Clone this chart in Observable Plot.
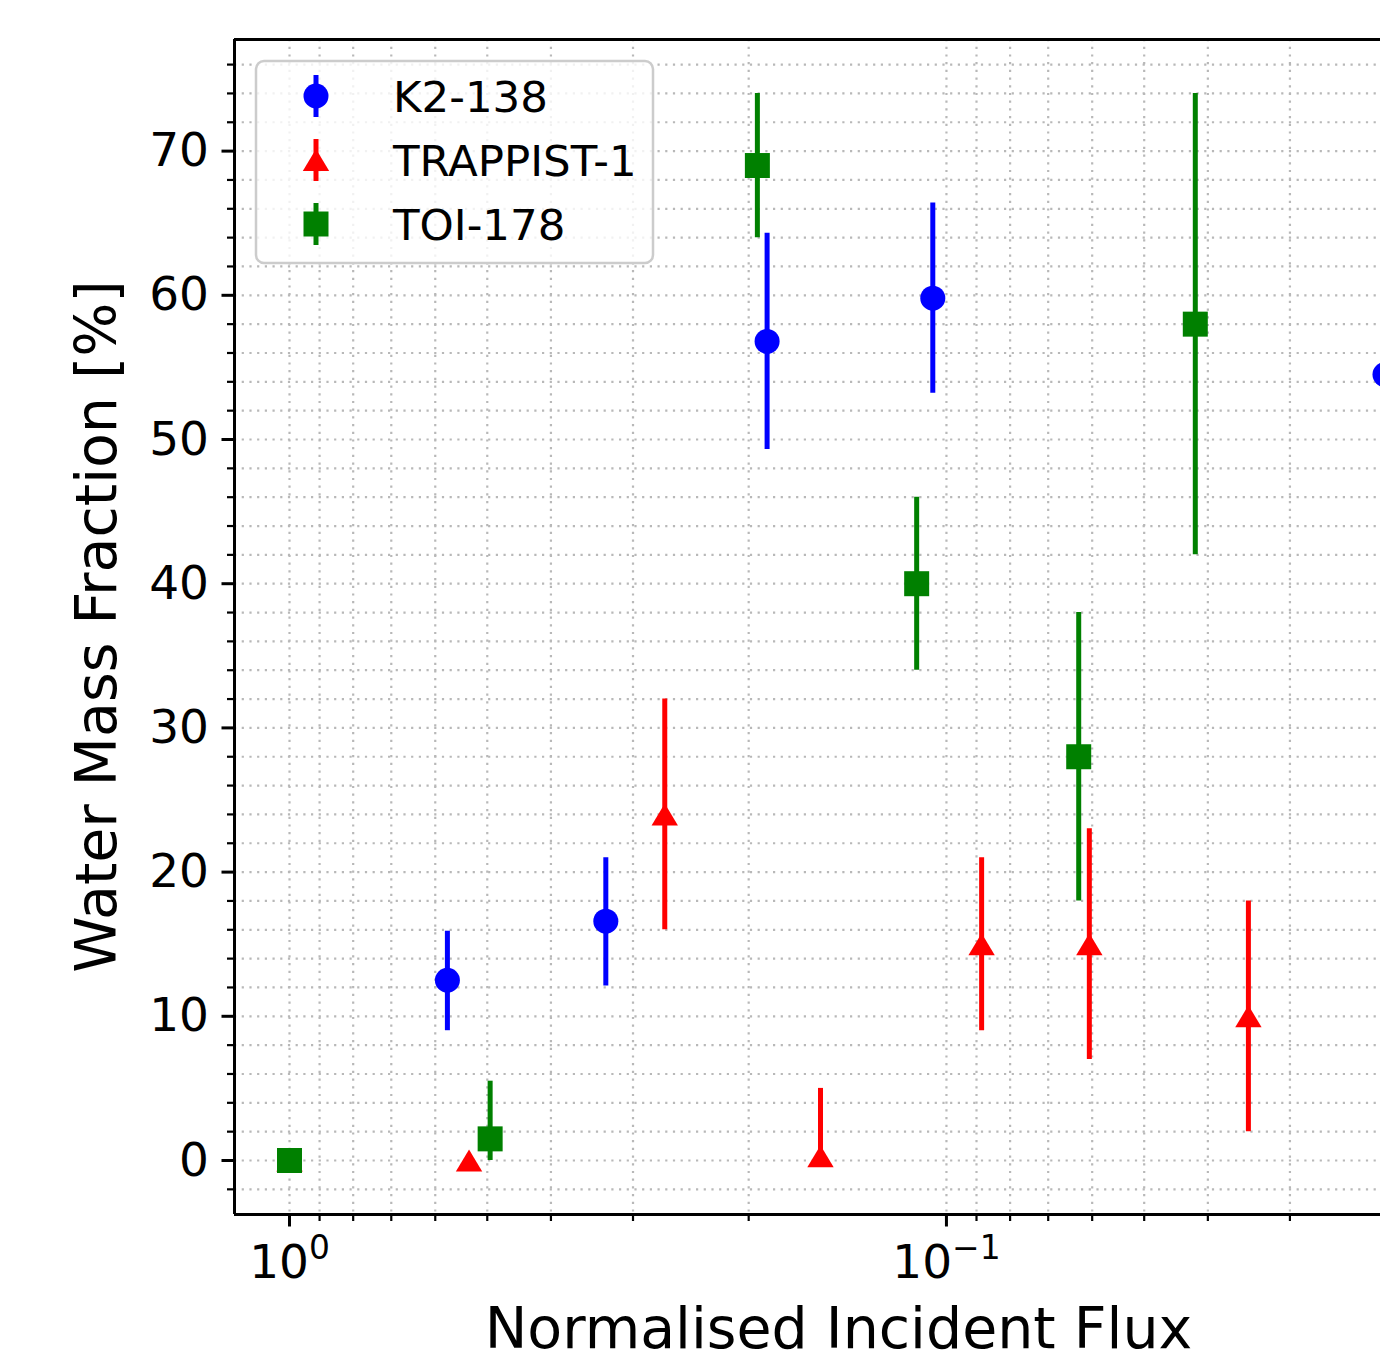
<!DOCTYPE html>
<html>
<head>
<meta charset="utf-8">
<script src="https://cdn.jsdelivr.net/npm/d3@7"></script>
<script src="https://cdn.jsdelivr.net/npm/@observablehq/plot@0.6"></script>
<style>
  html, body { margin: 0; padding: 0; background: #fff; overflow: hidden; }
  #chart { width: 1380px; height: 1360px; }
</style>
</head>
<body>
<div id="chart"></div>
<script>
// ---------------- data ----------------
const seriesNames  = ["K2-138", "TRAPPIST-1", "TOI-178"];
const seriesColors = ["#0000ff", "#ff0000", "#008000"];

// K2-138 (blue circles)
const k2Flux = [0.575, 0.330, 0.1875, 0.1049, 0.0215];
const k2Wmf  = [12.5, 16.6, 56.8, 59.8, 54.5];
const k2Lo   = [9.0, 12.1, 49.3, 53.2, 48.0];
const k2Hi   = [15.9, 21.0, 64.3, 66.4, 61.0];

// TRAPPIST-1 (red triangles)
const tFlux = [1.0, 0.533, 0.2684, 0.1555, 0.0884, 0.0606, 0.0347];
const tWmf  = [0, 0, 24, 0.3, 15, 15, 10];
const tLo   = [0, 0, 16, 0, 9, 7, 2];
const tHi   = [0, 0, 32, 5, 21, 23, 18];

// TOI-178 (green squares)
const gFlux = [1.0, 0.495, 0.194, 0.111, 0.0629, 0.0418];
const gWmf  = [0, 1.5, 69, 40, 28, 58];
const gLo   = [0, 0, 64, 34, 18, 42];
const gHi   = [0, 5.5, 74, 46, 38, 74];

// axes
const xMajorTicks = [1, 0.1];
const xMajorExp   = ["0", "\u22121"];
const xMinorTicks = [0.9, 0.8, 0.7, 0.6, 0.5, 0.4, 0.3, 0.2, 0.09, 0.08, 0.07, 0.06, 0.05, 0.04, 0.03];
const yMajorTicks = [0, 10, 20, 30, 40, 50, 60, 70];
const yMinorTicks = [-2, 2, 4, 6, 8, 12, 14, 16, 18, 22, 24, 26, 28, 32, 34, 36, 38, 42, 44, 46, 48, 52, 54, 56, 58, 62, 64, 66, 68, 72, 74, 76];
const xLabel = "Normalised Incident Flux";
const yLabel = "Water Mass Fraction [%]";

// ---------------- layout ----------------
const FONT = "DejaVu Sans";
const W = 1380, H = 1360;
const mL = 234, mR = 0, mT = 39, mB = 146;
const xDomain = [1.2127, 0.02184];
const yDomain = [-3.745, 77.74];

function rows(flux, wmf, lo, hi) {
  return flux.map((f, i) => ({flux: f, wmf: wmf[i], lo: lo[i], hi: hi[i]}));
}
const series = [
  rows(k2Flux, k2Wmf, k2Lo, k2Hi),
  rows(tFlux, tWmf, tLo, tHi),
  rows(gFlux, gWmf, gLo, gHi)
];

// matplotlib-like marker shapes
const symCircle = { draw(ctx, size) { const a = Math.sqrt(size / Math.PI); ctx.moveTo(a, 0); ctx.arc(0, 0, a, 0, 2 * Math.PI); } };
const symTri = { draw(ctx, size) { const a = Math.sqrt(size / Math.PI); ctx.moveTo(0, -a); ctx.lineTo(a * 1.2, a); ctx.lineTo(-a * 1.2, a); ctx.closePath(); } };
const symSq = { draw(ctx, size) { const a = Math.sqrt(size / Math.PI); ctx.rect(-a, -a, 2 * a, 2 * a); } };
const symbols = [symCircle, symTri, symSq];
const radii = [12.5, 11, 12.5];

const gridStyle = {stroke: "#b8b8b8", strokeOpacity: 1, strokeWidth: 2.2, strokeDasharray: "2.2,5.5"};

const marks = [
  Plot.gridY({ticks: [...yMajorTicks, ...yMinorTicks], ...gridStyle}),
  Plot.gridX({ticks: [...xMajorTicks, ...xMinorTicks], ...gridStyle})
];
series.forEach((data, i) => {
  marks.push(Plot.ruleX(data.filter(d => d.hi > d.lo), {x: "flux", y1: "lo", y2: "hi", stroke: seriesColors[i], strokeWidth: 5}));
  marks.push(Plot.dot(data, {x: "flux", y: "wmf", r: radii[i], symbol: symbols[i], fill: seriesColors[i]}));
});
marks.push(
  Plot.ruleX([xDomain[0]], {stroke: "black", strokeWidth: 3}),
  Plot.ruleY([yDomain[0], yDomain[1]], {stroke: "black", strokeWidth: 3}),
  Plot.axisY({ticks: yMajorTicks, tickSize: 12.5, tickPadding: 13, fontSize: 47, strokeWidth: 3, label: null, tickFormat: d => String(d)}),
  Plot.axisY({ticks: yMinorTicks, tickSize: 7, strokeWidth: 2.2, label: null, tickFormat: () => ""}),
  Plot.axisX({ticks: xMajorTicks, tickSize: 12.5, tickPadding: 18, fontSize: 47, strokeWidth: 3, label: null,
              tickFormat: d => "10^" + xMajorExp[xMajorTicks.indexOf(d)]}),
  Plot.axisX({ticks: xMinorTicks, tickSize: 7, strokeWidth: 2.2, label: null, tickFormat: () => ""})
);

const svg = Plot.plot({
  width: W, height: H,
  marginLeft: mL, marginRight: mR, marginTop: mT, marginBottom: mB,
  style: {fontFamily: FONT, color: "black", background: "white"},
  x: {type: "log", domain: xDomain, label: null},
  y: {domain: yDomain, label: null},
  marks
});
document.getElementById("chart").appendChild(svg);

// superscripts for the log tick labels
d3.select(svg).selectAll("text").each(function () {
  const m = /^10\^(.+)$/.exec(this.textContent);
  if (!m) return;
  const s = d3.select(this);
  s.text(null);
  s.append("tspan").text("10");
  s.append("tspan").attr("font-size", "0.7em").attr("dy", "-0.6em").text(m[1]);
});

const root = d3.select(svg).append("g").attr("font-family", FONT).attr("fill", "black");

// axis labels
root.append("text").attr("x", 838.5).attr("y", 1348).attr("text-anchor", "middle")
  .attr("font-size", 57).text(xLabel);
root.append("text").attr("transform", "translate(116,626.5) rotate(-90)").attr("text-anchor", "middle")
  .attr("font-size", 57).text(yLabel);

// legend
const lg = root.append("g");
lg.append("rect").attr("x", 256).attr("y", 61).attr("width", 397).attr("height", 202).attr("rx", 8)
  .attr("fill", "white").attr("fill-opacity", 0.8).attr("stroke", "#cccccc").attr("stroke-width", 2.5);
const rowsY = [96, 160, 224];
seriesNames.forEach((name, i) => {
  const cy = rowsY[i];
  lg.append("line").attr("x1", 316).attr("x2", 316).attr("y1", cy - 21).attr("y2", cy + 21)
    .attr("stroke", seriesColors[i]).attr("stroke-width", 5);
  lg.append("path").attr("transform", `translate(316,${cy})`)
    .attr("d", d3.symbol(symbols[i], radii[i] * radii[i] * Math.PI)()).attr("fill", seriesColors[i]);
  lg.append("text").attr("x", 393).attr("y", cy + 15.8).attr("text-anchor", "start")
    .attr("font-size", 43.5).text(name);
});
</script>
</body>
</html>
